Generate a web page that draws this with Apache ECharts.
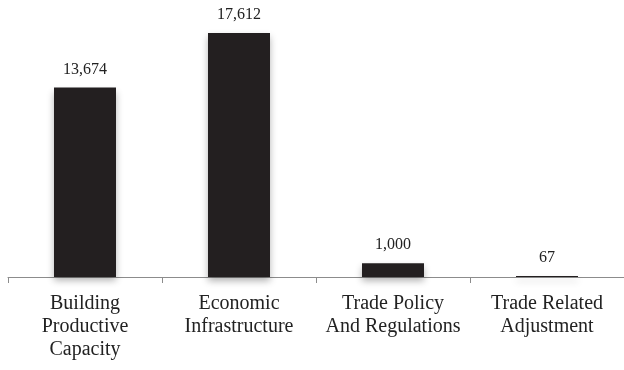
<!DOCTYPE html>
<html><head><meta charset="utf-8">
<script src="https://cdn.jsdelivr.net/npm/echarts@6/dist/echarts.min.js"></script>
<style>html,body{margin:0;padding:0;background:#fff}#c{width:624px;height:370px}</style>
</head><body><div id="c"></div>
<script>
const categories = ["Building\nProductive\nCapacity", "Economic\nInfrastructure", "Trade Policy\nAnd Regulations", "Trade Related\nAdjustment"];
const values = [13674, 17612, 1000, 67];

const serif = '"Liberation Serif", "DejaVu Serif", serif';
const chart = echarts.init(document.getElementById('c'), null, {renderer: 'canvas'});
chart.setOption({
  animation: false,
  grid: {left: 8, top: 0, width: 624, height: 277, containLabel: false},
  xAxis: {
    type: 'category', data: categories,
    axisLine: {lineStyle: {color: '#8c8c8c', width: 1}},
    axisTick: {show: true, length: 6, lineStyle: {color: '#8c8c8c'}},
    axisLabel: {color: '#222', fontFamily: serif, fontSize: 20, lineHeight: 23, margin: 15, interval: 0}
  },
  yAxis: {type: 'value', min: 0, max: 20000, show: false, splitLine: {show: false}},
  series: [{
    type: 'bar', data: values, barWidth: 62,
    itemStyle: {color: '#231f20', shadowColor: 'rgba(0,0,0,0.3)', shadowBlur: 7, shadowOffsetY: 4},
    label: {show: true, position: 'top', distance: 10, color: '#222', fontFamily: serif, fontSize: 16,
      formatter: p => p.value.toLocaleString('en-US')}
  }]
});
</script></body></html>
